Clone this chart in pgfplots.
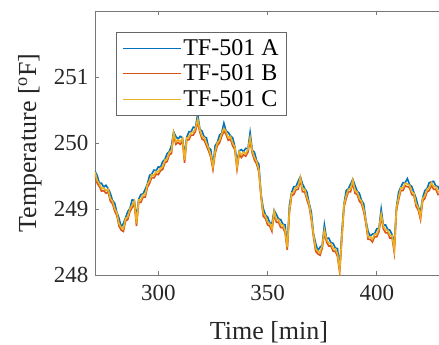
\documentclass[border=0pt]{standalone}
\usepackage{pgfplots}
\pgfplotsset{compat=1.18}
\usepackage{pgfplotstable}
\usepackage{fontspec}
\setmainfont{Liberation Serif}
\definecolor{mblue}{RGB}{0,114,189}
\definecolor{morange}{RGB}{217,83,25}
\definecolor{myellow}{RGB}{237,177,32}
\definecolor{axgray}{RGB}{120,120,120}
\definecolor{txt}{RGB}{38,38,38}
\pgfplotstableread{
t a b c
271 249.57 249.52 249.56
272 249.51 249.39 249.43
273 249.39 249.34 249.38
274 249.39 249.27 249.31
275 249.33 249.28 249.32
276 249.36 249.24 249.28
277 249.31 249.26 249.30
278 249.24 249.12 249.16
279 249.13 249.08 249.12
280 249.09 248.97 249.01
281 248.95 248.90 248.94
282 248.86 248.74 248.78
283 248.73 248.68 248.72
284 248.78 248.66 248.70
285 248.87 248.82 248.86
286 248.96 248.84 248.88
287 249.01 248.96 249.00
288 249.14 249.02 249.06
289 249.13 249.08 249.12
290 248.86 248.74 248.78
291 249.15 249.10 249.14
292 249.22 249.10 249.14
293 249.23 249.18 249.22
294 249.30 249.18 249.22
295 249.38 249.33 249.37
296 249.51 249.39 249.43
297 249.53 249.48 249.52
298 249.59 249.47 249.51
299 249.58 249.53 249.57
300 249.64 249.52 249.56
301 249.63 249.58 249.62
302 249.72 249.60 249.64
303 249.75 249.70 249.74
304 249.84 249.72 249.76
305 249.87 249.82 249.86
306 249.96 249.84 249.88
307 250.17 250.12 250.16
308 250.10 249.98 250.02
309 250.06 250.01 250.05
310 250.10 249.98 250.02
311 250.08 250.03 250.07
312 249.82 249.70 249.74
313 250.09 250.04 250.08
314 250.17 250.05 250.09
315 250.17 250.12 250.16
316 250.24 250.12 250.16
317 250.23 250.18 250.22
318 250.44 250.32 250.36
319 250.21 250.16 250.20
320 250.18 250.06 250.10
321 250.09 250.04 250.08
322 250.08 249.96 250.00
323 249.93 249.88 249.92
324 249.90 249.78 249.82
325 249.65 249.60 249.64
326 249.96 249.84 249.88
327 250.01 249.96 250.00
328 250.12 250.00 250.04
329 250.15 250.10 250.14
330 250.30 250.18 250.22
331 250.18 250.13 250.17
332 250.16 250.04 250.08
333 250.11 250.06 250.10
334 250.08 249.96 250.00
335 249.95 249.90 249.94
336 249.72 249.60 249.64
337 249.88 249.83 249.87
338 249.90 249.78 249.82
339 249.87 249.82 249.86
340 249.92 249.80 249.84
341 249.91 249.86 249.90
342 250.16 250.04 250.08
343 249.89 249.84 249.88
344 249.86 249.74 249.78
345 249.73 249.68 249.72
346 249.68 249.56 249.60
347 249.23 249.18 249.22
348 249.01 248.89 248.93
349 248.91 248.86 248.90
350 248.88 248.76 248.80
351 248.79 248.74 248.78
352 248.78 248.66 248.70
353 248.98 248.93 248.97
354 248.92 248.80 248.84
355 248.85 248.80 248.84
356 248.84 248.72 248.76
357 248.77 248.72 248.76
358 248.76 248.64 248.68
359 248.43 248.38 248.42
360 249.06 248.94 248.98
361 249.25 249.20 249.24
362 249.34 249.22 249.26
363 249.34 249.29 249.33
364 249.42 249.30 249.34
365 249.49 249.44 249.48
366 249.38 249.26 249.30
367 249.31 249.26 249.30
368 249.26 249.14 249.18
369 249.09 249.04 249.08
370 248.96 248.84 248.88
371 248.63 248.58 248.62
372 248.48 248.36 248.40
373 248.37 248.32 248.36
374 248.42 248.30 248.34
375 248.45 248.40 248.44
376 248.76 248.64 248.68
377 248.55 248.50 248.54
378 248.56 248.44 248.48
379 248.49 248.44 248.48
380 248.48 248.36 248.40
381 248.41 248.36 248.40
382 248.40 248.28 248.32
383 248.09 248.04 248.08
384 248.66 248.54 248.58
385 249.08 249.03 249.07
386 249.28 249.16 249.20
387 249.31 249.26 249.30
388 249.38 249.26 249.30
389 249.45 249.40 249.44
390 249.36 249.24 249.28
391 249.27 249.22 249.26
392 249.24 249.12 249.16
393 249.13 249.08 249.12
394 249.08 248.96 249.00
395 248.83 248.78 248.82
396 248.66 248.54 248.58
397 248.59 248.54 248.58
398 248.62 248.50 248.54
399 248.63 248.58 248.62
400 248.70 248.58 248.62
401 248.71 248.66 248.70
402 249.00 248.88 248.92
403 248.75 248.70 248.74
404 248.76 248.64 248.68
405 248.69 248.64 248.68
406 248.68 248.56 248.60
407 248.61 248.56 248.60
408 248.46 248.34 248.38
409 249.03 248.98 249.02
410 249.26 249.14 249.18
411 249.33 249.28 249.32
412 249.40 249.28 249.32
413 249.40 249.35 249.39
414 249.46 249.34 249.38
415 249.37 249.32 249.36
416 249.34 249.22 249.26
417 249.25 249.20 249.24
418 249.16 249.04 249.08
419 249.03 248.98 249.02
420 248.96 248.84 248.88
421 249.17 249.12 249.16
422 249.28 249.16 249.20
423 249.31 249.26 249.30
424 249.40 249.28 249.32
425 249.41 249.36 249.40
426 249.42 249.30 249.34
427 249.35 249.30 249.34
428 249.34 249.22 249.26
429 249.27 249.22 249.26
430 249.28 249.16 249.20
}\datatable
\begin{document}
\begin{tikzpicture}
\begin{axis}[
  at={(0,0)}, anchor=south west,
  scale only axis,
  width=348pt, height=264pt,
  xmin=271, xmax=430.3,
  ymin=248, ymax=252,
  xtick={300,350,400},
  ytick={248,249,250,251},
  tick align=inside,
  major tick length=4pt,
  xtick pos=both,
  ytick pos=both,
  axis line style={axgray, line width=0.8pt},
  every tick/.style={axgray, line width=0.8pt},
  /pgf/number format/assume math mode=true,
  tick label style={font=\fontsize{23}{27}\selectfont, text=txt},
  xticklabel style={yshift=-7pt},
  yticklabel style={xshift=-3pt},
  every axis x label/.style={at={(axis description cs:0.5,0)}, anchor=base, yshift=-64.3pt, font=\fontsize{26}{30}\selectfont, text=txt},
  every axis y label/.style={at={(axis description cs:-0.1868,0.5)}, rotate=90, anchor=center, font=\fontsize{26}{30}\selectfont, text=txt},
  xlabel={Time [min]},
  ylabel={Temperature [\textsuperscript{o}F]},
  legend cell align=left,
  legend image code/.code={\draw[#1, line width=1.2pt] (0pt,0pt) -- (58pt,0pt);},
  legend style={at={(axis description cs:0.0595,0.920)}, anchor=north west,
    draw=black!60, line width=0.8pt, fill=white,
    font=\fontsize{24}{26}\selectfont,
    inner xsep=6pt, inner ysep=5pt, row sep=4pt},
]
\addplot[mblue, line width=1.6pt] table[x=t, y=a] {\datatable};
\addlegendentry{TF-501 A}
\addplot[morange, line width=1.6pt] table[x=t, y=b] {\datatable};
\addlegendentry{TF-501 B}
\addplot[myellow, line width=1.6pt] table[x=t, y=c] {\datatable};
\addlegendentry{TF-501 C}
\end{axis}
\pgfresetboundingbox
\path[use as bounding box] (-95pt,-70pt) rectangle (344pt,275pt);
\end{tikzpicture}
\end{document}
